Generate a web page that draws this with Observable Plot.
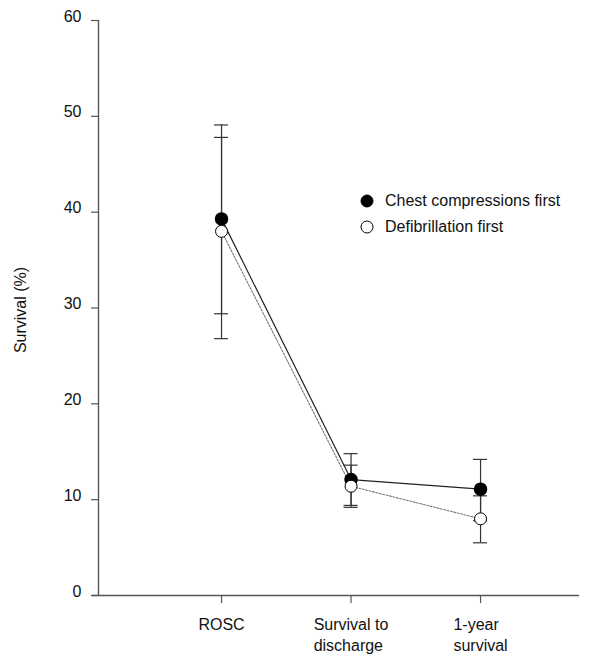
<!DOCTYPE html>
<html>
<head>
<meta charset="utf-8">
<script src="https://cdn.jsdelivr.net/npm/d3@7"></script>
<script src="https://cdn.jsdelivr.net/npm/@observablehq/plot@0.6"></script>
<style>
  html, body { margin: 0; padding: 0; background: #fff; }
  #wrap { position: relative; width: 600px; height: 667px; font-family: "Liberation Sans", Arial, sans-serif; color: #111; }
  #ylabel { position: absolute; left: 21px; top: 310px; transform: translate(-50%, -50%) rotate(-90deg); font-size: 16px; white-space: nowrap; }
  #legend { position: absolute; left: 359px; top: 188px; font-size: 16px; }
  .item { display: flex; align-items: center; height: 26px; }
  .item svg { margin-right: 10px; }
</style>
</head>
<body>
<div id="wrap">
  <div id="chart"></div>
  <div id="ylabel"></div>
  <div id="legend"></div>
</div>
<script>
// ---- data ----
const categories = ["ROSC", "Survival to\ndischarge", "1-year\nsurvival"];
const seriesNames = ["Chest compressions first", "Defibrillation first"];
const ccMean = [39.3, 12.1, 11.1];
const ccLow  = [29.4, 9.4, 7.8];
const ccHigh = [49.1, 14.8, 14.2];
const dfMean = [38.0, 11.4, 8.0];
const dfLow  = [26.8, 9.2, 5.5];
const dfHigh = [47.8, 13.6, 10.4];
const yTicks = [0, 10, 20, 30, 40, 50, 60];
const yLabel = "Survival (%)";

// ---- tables ----
const mk = (name, mean, low, high) => categories.map((c, i) => ({i, cat: c, series: name, mean: mean[i], low: low[i], high: high[i]}));
const cc = mk(seriesNames[0], ccMean, ccLow, ccHigh);
const df = mk(seriesNames[1], dfMean, dfLow, dfHigh);
const all = cc.concat(df);

const xDomain = [-0.95, 2.764];
const axisColor = "#555";
const barColor = "#333";

const chart = Plot.plot({
  width: 600,
  height: 667,
  marginLeft: 98,
  marginRight: 21,
  marginTop: 20,
  marginBottom: 72,
  style: {fontSize: "16px", fontFamily: "'Liberation Sans', Arial, sans-serif", color: "#111", background: "#fff"},
  x: {domain: xDomain},
  y: {domain: [0, 60]},
  marks: [
    // error bars
    Plot.ruleX(all, {x: "i", y1: "low", y2: "high", stroke: barColor, strokeWidth: 1.2}),
    Plot.ruleY(all, {y: "low", x1: "i", x2: "i", insetLeft: -7, insetRight: -7, stroke: barColor, strokeWidth: 1.2}),
    Plot.ruleY(all, {y: "high", x1: "i", x2: "i", insetLeft: -7, insetRight: -7, stroke: barColor, strokeWidth: 1.2}),
    // lines
    Plot.line(cc, {x: "i", y: "mean", stroke: "#222", strokeWidth: 1.2}),
    Plot.line(df, {x: "i", y: "mean", stroke: "#777", strokeWidth: 1.1, strokeDasharray: "2,1.5"}),
    // dots
    Plot.dot(cc, {x: "i", y: "mean", r: 6, fill: "#000", stroke: "#000"}),
    Plot.dot(df, {x: "i", y: "mean", r: 6, fill: "#fff", stroke: "#000", strokeWidth: 1}),
    // axis lines
    Plot.ruleX([xDomain[0]], {y1: 0, y2: 60, stroke: axisColor, strokeWidth: 1.4}),
    Plot.ruleY([0], {insetLeft: -6, stroke: axisColor, strokeWidth: 1.4}),
    // y axis
    Plot.axisY(yTicks, {tickSize: 7, fill: "none", stroke: axisColor, strokeWidth: 1.2, label: null}),
    Plot.axisY(yTicks, {tickSize: 0, tickPadding: 17, dy: -4, fill: "#111", label: null}),
    // x axis
    Plot.axisX([0, 1, 2], {tickSize: 8, fill: "none", stroke: axisColor, strokeWidth: 1.2, label: null}),
    Plot.axisX([0, 1, 2], {tickSize: 0, tickPadding: 20, tickFormat: i => categories[i], lineHeight: 1.3, textAnchor: "start", fill: "#111", label: null})
  ]
});
document.getElementById("chart").appendChild(chart);
document.getElementById("ylabel").textContent = yLabel;

// center each left-aligned multi-line label block under its tick
const flat = categories.map(c => c.replace(/\n/g, ""));
chart.querySelectorAll("text").forEach(t => {
  if (!flat.includes(t.textContent)) return;
  const w = t.getBBox().width;
  const tr = t.getAttribute("transform") || "";
  t.setAttribute("transform", (tr + ` translate(${-w / 2},0)`).trim());
});

const legend = document.getElementById("legend");
seriesNames.forEach((name, k) => {
  const row = document.createElement("div");
  row.className = "item";
  const fill = k === 0 ? "#000" : "#fff";
  row.innerHTML = `<svg width="16" height="16"><circle cx="8" cy="8" r="6" fill="${fill}" stroke="#000" stroke-width="1"/></svg><span></span>`;
  row.querySelector("span").textContent = name;
  legend.appendChild(row);
});
</script>
</body>
</html>
